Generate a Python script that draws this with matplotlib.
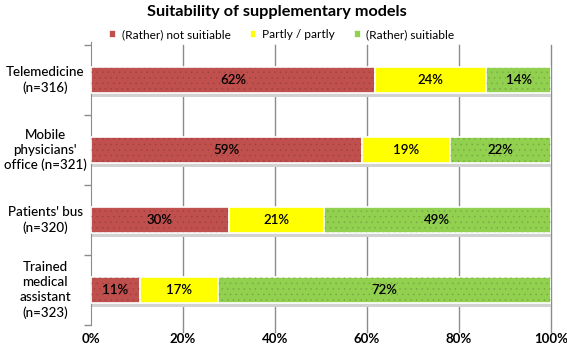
import numpy as np
import matplotlib.pyplot as plt
from matplotlib.transforms import blended_transform_factory

categories = ["Telemedicine\n(n=316)", "Mobile\nphysicians'\noffice (n=321)",
              "Patients' bus\n(n=320)", "Trained\nmedical\nassistant\n(n=323)"]
series_names = ["(Rather) not suitiable", "Partly / partly", "(Rather) suitiable"]
not_suitable = [61.7, 58.9, 30.0, 10.6]
partly = [24.2, 19.1, 20.6, 17.0]
suitable = [14.1, 22.0, 49.4, 72.4]
colors = ["#C0504D", "#FFFF00", "#92D050"]
x_ticks = [0, 20, 40, 60, 80, 100]

plt.rcParams['font.family'] = ['Lato', 'DejaVu Sans']
plt.rcParams['hatch.linewidth'] = 0.5

fig = plt.figure(figsize=(5.67, 3.47), dpi=100)
ax = fig.add_axes([0.1605, 0.0634, 0.8113, 0.8069])

y = np.arange(len(categories))
h = 0.37
left = np.zeros(len(categories))
for name, vals, c in zip(series_names, [not_suitable, partly, suitable], colors):
    vals = np.array(vals)
    # thin shadow under the bar
    ax.barh(y + h / 2 + 0.03, vals, left=left, height=0.06, color="#d2d2d2",
            linewidth=0, zorder=2)
    ax.barh(y, vals, left=left, height=h, color=c, edgecolor="white",
            linewidth=1.2, zorder=3, label=name)
    if c != "#FFFF00":
        ax.barh(y, vals, left=left, height=h, fill=False, hatch="...",
                edgecolor=(0, 0, 0, 0.12), linewidth=0, zorder=4)
    for yi, l, v in zip(y, left, vals):
        ax.text(l + v / 2, yi, f"{round(v)}%", ha="center", va="center",
                fontsize=9.5, fontweight="semibold", color="black", zorder=5)
    left = left + vals

ax.set_xlim(0, 100)
ax.set_ylim(len(categories) - 0.5, -0.5)
ax.set_xticks(x_ticks)
ax.set_xticklabels([f"{t}%" for t in x_ticks], fontsize=9.5, fontweight="bold")
ax.tick_params(axis="x", length=0, pad=6)
for t in x_ticks[1:]:
    ax.plot([t, t], [-0.5, len(categories) - 0.5 + 0.1], color="#8c8c8c",
            lw=1, zorder=1, clip_on=False)

ax.set_yticks(np.arange(len(categories) + 1) - 0.5)
ax.set_yticklabels([])
ax.tick_params(axis="y", length=5, color="#8c8c8c", width=1)
trans = blended_transform_factory(ax.transAxes, ax.transData)
for yi, lab in zip(y, categories):
    ax.text(-0.1, yi, lab, transform=trans, ha="center", va="center",
            fontsize=9.6, fontweight="medium", linespacing=1.3)

for s in ["top", "right", "bottom"]:
    ax.spines[s].set_visible(False)
ax.spines["left"].set_color("#8c8c8c")
ax.spines["left"].set_bounds(-0.5 - 0.05, len(categories) - 0.5)

fig.suptitle("Suitability of supplementary models", x=0.488, y=0.985,
             fontsize=11.7, fontweight="bold")
fig.legend(loc="center", bbox_to_anchor=(0.497, 0.9), ncol=3, frameon=False,
           fontsize=8.6, handlelength=0.55, handleheight=0.55, columnspacing=1.6,
           handletextpad=0.5)

fig.savefig("out.png", dpi=100)
